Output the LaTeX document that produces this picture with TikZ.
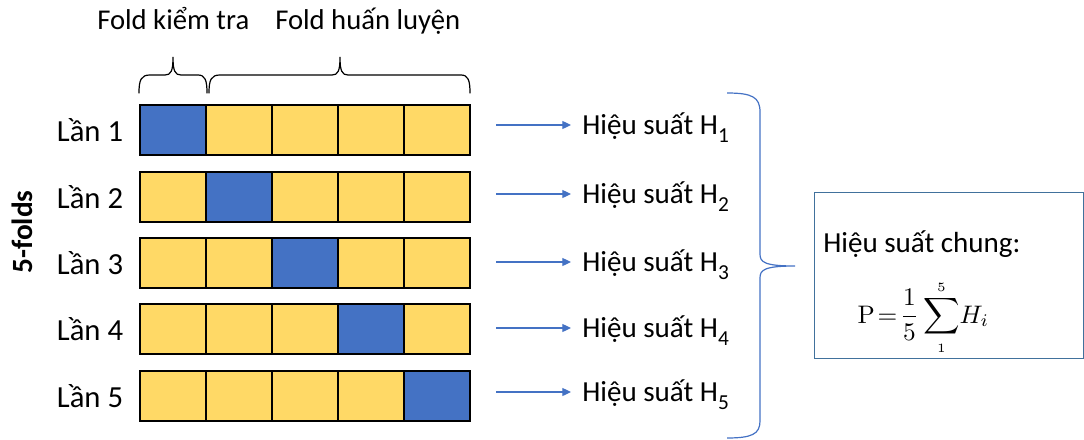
\documentclass[tikz,border=0pt]{standalone}
\usepackage[no-math]{fontspec}
\setmainfont{Carlito}
\usetikzlibrary{arrows.meta,calc}
\definecolor{foldblue}{HTML}{4472C4}
\definecolor{foldgold}{HTML}{FFD966}
\definecolor{boxline}{HTML}{41719C}
\begin{document}
\begin{tikzpicture}[x=0.75pt,y=-0.75pt,
  cell/.style={draw=black, line width=1.1pt, minimum width=49.5pt, minimum height=37.5pt,
    inner sep=0pt, outer sep=0pt, fill=foldgold, anchor=north west},
  testcell/.style={cell, fill=foldblue},
  lbl/.style={font=\fontsize{23}{27}\selectfont, anchor=base, inner sep=0pt},
  res/.style={font=\fontsize{21.8}{26}\selectfont, anchor=base west, inner sep=0pt},
  flow/.style={draw=foldblue, line width=0.9pt, -{Triangle[length=6.5pt,width=6pt]}},
  brk/.style={line width=0.9pt, line cap=round}
]
\useasboundingbox (0,0) rectangle (1084,439);

% header labels and their braces
\node[res, font=\fontsize{21.5}{26}\selectfont] (ftest) at (97,29) {Fold kiểm tra};
\node[res, font=\fontsize{21.5}{26}\selectfont] (ftrain) at (275,29) {Fold huấn luyện};
\draw[brk] (139,93) .. controls (139,80) and (141,75) .. (150,75) -- (165,75)
  .. controls (171,75) and (173,71) .. (173,57)
  .. controls (173,71) and (175,75) .. (181,75) -- (198,75)
  .. controls (205,75) and (207,80) .. (207,93);
\draw[brk] (209,93) .. controls (209,80) and (211,75) .. (220,75) -- (332,75)
  .. controls (338,75) and (340,71) .. (340,57)
  .. controls (340,71) and (342,75) .. (348,75) -- (461,75)
  .. controls (468,75) and (470,80) .. (470,93);

% side label
\node[font=\fontsize{22}{26}\selectfont\bfseries, rotate=90] (folds) at (22,232) {5-folds};

% the five runs
\foreach \row/\ty/\arr in {1/105/125, 2/172/194, 3/238/262, 4/304/328, 5/371/392}{
  \node[lbl] (lan\row) at (90,\ty+36) {Lần \row};
  \foreach \col in {1,...,5}{
    \ifnum\col=\row \def\cellsty{testcell}\else\def\cellsty{cell}\fi
    \node[\cellsty] (r\row c\col) at ({140+66*(\col-1)},\ty) {};
  }
  \coordinate (s\row) at (496,\arr);
  \node[res] (h\row) at (582,\arr+9.5)
    {Hiệu suất H\raisebox{-6pt}{\fontsize{16}{16}\selectfont\row}};
  \draw[flow] (s\row) -- ($(h\row.west |- s\row)+(-11,0)$);
}

% brace gathering the five results
\draw[foldblue, line width=0.9pt] (727,93) .. controls (752,93) and (760,97) .. (760,112)
  -- (760,254) .. controls (760,262) and (764,266) .. (795,266)
  .. controls (764,266) and (760,270) .. (760,278)
  -- (760,421) .. controls (760,434) and (752,438) .. (727,438);

% overall result box
\node[draw=boxline, line width=1.1pt, minimum width=201.5pt, minimum height=124.5pt,
  inner sep=0pt, anchor=north west] (sumbox) at (814,192) {};
\node[res] (sumtitle) at (823,252) {Hiệu suất chung:};
\node[anchor=base west, inner sep=0pt, scale=1.9] (sumform) at (857,323)
  {$\displaystyle \mathrm{P}\mskip2mu{=}\mskip2mu\frac{1}{5}\sum_{\scriptscriptstyle 1}^{\scriptscriptstyle 5}\!H_i$};
\end{tikzpicture}
\end{document}
